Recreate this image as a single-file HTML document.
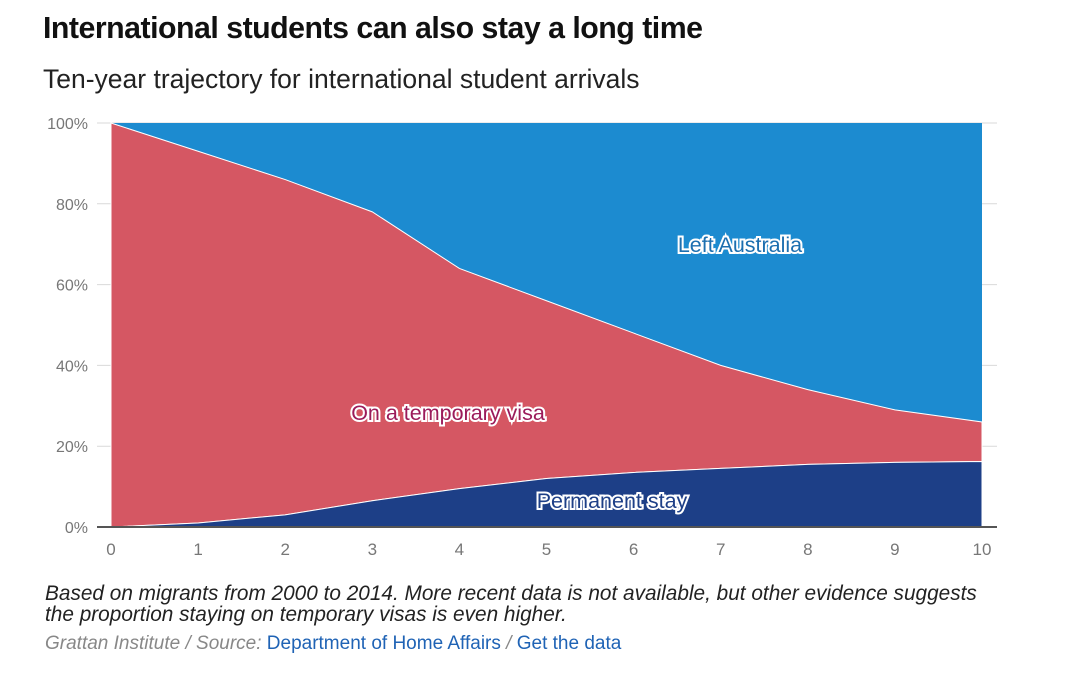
<!DOCTYPE html>
<html><head><meta charset="utf-8"><style>
body{margin:0;background:#fff;width:1089px;height:675px;overflow:hidden;font-family:"Liberation Sans",sans-serif;}
#title{position:absolute;left:43px;top:12px;font-size:30.3px;font-weight:bold;color:#111;letter-spacing:-0.5px}
#sub{position:absolute;left:43px;top:64px;font-size:26.5px;color:#222}
#note{position:absolute;left:45px;top:584px;font-size:20.8px;font-style:italic;color:#222;line-height:20.5px;width:1040px;white-space:nowrap}
#src{position:absolute;left:45px;top:633px;font-size:19px;color:#888;font-style:italic}
#src a{color:#1f63b5;font-style:normal;text-decoration:none}
svg{position:absolute;left:0;top:0}
</style></head><body>
<div id="title">International students can also stay a long time</div>
<div id="sub">Ten-year trajectory for international student arrivals</div>
<svg id="chart" width="1089" height="675"></svg>
<div id="note">Based on migrants from 2000 to 2014. More recent data is not available, but other evidence suggests<br>the proportion staying on temporary visas is even higher.</div>
<div id="src">Grattan Institute / Source: <a>Department of Home Affairs</a> / <a>Get the data</a></div>
<script>
const years=[0,1,2,3,4,5,6,7,8,9,10];
const permanent=[0,1,3,6.5,9.5,12,13.5,14.5,15.5,16,16.2];
const temporaryTop=[100,93,86,78,64,56,48,40,34,29,26];
const yTicks=[0,20,40,60,80,100];
const NS="http://www.w3.org/2000/svg";
const svg=document.getElementById('chart');
const x=v=>111+v*87.1;
const y=v=>527-v*4.04;
function mk(t,a){const e=document.createElementNS(NS,t);for(const k in a)e.setAttribute(k,a[k]);svg.appendChild(e);return e;}
yTicks.forEach(t=>{
 const l=mk('line',{x1:97,x2:997,y1:y(t),y2:y(t),stroke:'#d9d9d9','stroke-width':1});
 
 
 const tx=mk('text',{x:88,y:y(t)+6,'text-anchor':'end','font-size':16,fill:'#777','font-family':'Liberation Sans'});
 tx.textContent=t+'%';
 
 
});
function pts(arr){return years.map((yr,i)=>x(yr)+','+y(arr[i])).join(' ');}
const top100=years.map(()=>100), zero=years.map(()=>0);
function area(upper,lower){return pts(upper)+' '+years.slice().reverse().map(yr=>x(yr)+','+y(lower[years.indexOf(yr)])).join(' ');}
const a1=mk('polygon',{points:area(top100,temporaryTop),fill:'#1c8bd0'});


const a2=mk('polygon',{points:area(temporaryTop,permanent),fill:'#d55763',stroke:'#fff','stroke-width':1});


const a3=mk('polygon',{points:area(permanent,zero),fill:'#1d3f87',stroke:'#fff','stroke-width':1});


const ax=mk('line',{x1:97,x2:997,y1:527,y2:527,stroke:'#555','stroke-width':2});


years.forEach(yr=>{
 const t=mk('text',{x:x(yr),y:555,'text-anchor':'middle','font-size':17,fill:'#777','font-family':'Liberation Sans'});
 t.textContent=yr;
 
 
});
[['Left Australia',740,252,'#1c6fb0','left-australia-label'],['On a temporary visa',448,420,'#9b1b5a','temporary-visa-label'],['Permanent stay',612,508,'#1d3f87','permanent-stay-label']].forEach(l=>{
 const t=mk('text',{x:l[1],y:l[2],'text-anchor':'middle','font-size':21.5,fill:l[3],stroke:'#fff','stroke-width':4,'paint-order':'stroke','font-family':'Liberation Sans'});
 t.textContent=l[0];
 
 
});
</script>
</body></html>
